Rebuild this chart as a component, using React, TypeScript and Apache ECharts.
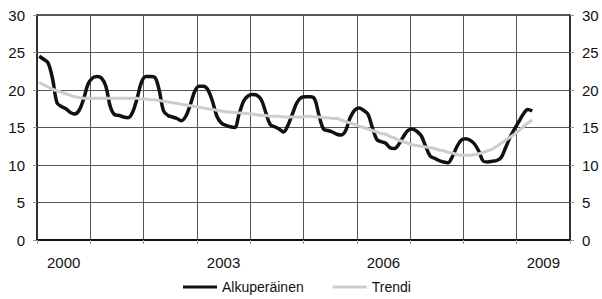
import React, { useEffect, useRef } from "react";
import * as echarts from "echarts";

const years = ["2000", "2001", "2002", "2003", "2004", "2005", "2006", "2007", "2008", "2009"];
const yTicks = [0, 5, 10, 15, 20, 25, 30];

// Monthly values, Jan 2000 .. Apr 2009
const original = [
  24.5, 24.1, 23.6, 21.5, 18.3, 17.8, 17.5, 17.0, 16.8, 17.3, 18.8, 20.8,
  21.6, 21.8, 21.6, 20.5, 17.8, 16.7, 16.6, 16.4, 16.3, 17.0, 18.8, 21.0,
  21.8, 21.8, 21.7, 20.0, 17.2, 16.6, 16.4, 16.2, 15.9, 16.5, 18.0, 19.8,
  20.5, 20.5, 20.0, 18.5, 16.5, 15.6, 15.3, 15.1, 15.0, 16.8, 18.5, 19.2,
  19.4, 19.3, 18.7, 17.0, 15.4, 15.1, 14.8, 14.4, 15.3, 16.8, 18.3, 19.0,
  19.1, 19.1, 18.8, 16.6, 14.8, 14.6, 14.4, 14.1, 14.0, 14.6, 16.3, 17.3,
  17.6, 17.3, 16.8, 15.0, 13.4, 13.1, 12.9, 12.3, 12.2, 12.8, 13.8, 14.6,
  14.8, 14.5, 13.9, 12.5, 11.2, 10.9, 10.6, 10.4, 10.3, 11.1, 12.4, 13.3,
  13.5, 13.3, 12.8, 11.8, 10.5, 10.4, 10.5, 10.6, 11.0, 12.3, 13.7, 14.8,
  15.8, 16.8, 17.4, 17.2,
];

const trend = [
  21.0, 20.7, 20.4, 20.1, 19.9, 19.7, 19.5, 19.3, 19.1, 19.0, 18.9, 18.9,
  18.9, 18.9, 18.9, 18.9, 18.9, 18.9, 18.9, 18.9, 18.9, 18.9, 18.9, 18.8,
  18.8, 18.7, 18.7, 18.6, 18.5, 18.4, 18.3, 18.2, 18.1, 18.0, 17.9, 17.8,
  17.7, 17.6, 17.5, 17.4, 17.3, 17.2, 17.1, 17.05, 17.0, 16.95, 16.9, 16.85,
  16.8, 16.7, 16.6, 16.6, 16.5, 16.5, 16.5, 16.4, 16.4, 16.4, 16.4, 16.4,
  16.5, 16.5, 16.4, 16.4, 16.3, 16.3, 16.2, 16.2, 16.0, 15.8, 15.6, 15.4,
  15.2, 15.0, 14.8, 14.6, 14.4, 14.2, 14.1, 13.8, 13.6, 13.3, 13.1, 12.9,
  12.7, 12.6, 12.5, 12.4, 12.3, 12.2, 12.0, 11.9, 11.7, 11.6, 11.4, 11.3,
  11.3, 11.3, 11.4, 11.5, 11.7, 11.9, 12.1, 12.5, 12.9, 13.3, 13.7, 14.1,
  14.6, 15.1, 15.6, 16.0,
];

const seriesNames = ["Alkuperäinen", "Trendi"];

const FONT = "'Liberation Sans', Arial, sans-serif";
const BLACK = "#111";
const GREY = "#cdcdcd";

export default function App() {
  const ref = useRef<HTMLDivElement>(null);
  useEffect(() => {
    if (!ref.current) return;
    const chart = echarts.init(ref.current, null, { renderer: "svg" });
    const toPairs = (arr: number[]) => arr.map((v, i) => [i + 0.5, v]);
    const yAxisCommon = {
      type: "value",
      min: yTicks[0],
      max: yTicks[yTicks.length - 1],
      interval: 5,
      axisLine: { show: true, lineStyle: { color: "#222", width: 1.5 } },
      axisTick: { show: true, length: 4, lineStyle: { color: "#999" } },
      axisLabel: { color: "#111", fontSize: 15, fontFamily: FONT, margin: 12 },
    };
    chart.setOption({
      animation: false,
      backgroundColor: "#fff",
      grid: {
        left: 37,
        right: 32,
        top: 15,
        bottom: 59,
        show: true,
        borderColor: "#222",
        borderWidth: 1.5,
        backgroundColor: "transparent",
      },
      legend: {
        data: [
          { name: seriesNames[0], icon: "rect", itemStyle: { color: BLACK } },
          { name: seriesNames[1], icon: "rect", itemStyle: { color: GREY } },
        ],
        left: 183,
        top: 280,
        padding: 0,
        itemWidth: 34,
        itemHeight: 3,
        itemGap: 29,
        textStyle: { color: "#111", fontSize: 14, fontFamily: FONT },
      },
      xAxis: [
        {
          type: "category",
          data: years,
          boundaryGap: true,
          axisLine: { show: true, lineStyle: { color: "#111", width: 2 } },
          axisTick: { show: true, interval: 0, length: 4, lineStyle: { color: "#999" } },
          axisLabel: { interval: 2, color: "#111", fontSize: 15, fontFamily: FONT, margin: 15 },
          splitLine: { show: true, interval: 0, lineStyle: { color: "#555", width: 1 } },
        },
        {
          type: "value",
          min: 0,
          max: years.length * 12,
          show: false,
        },
      ],
      yAxis: [
        {
          ...yAxisCommon,
          position: "left",
          splitLine: { show: true, lineStyle: { color: "#555", width: 1 } },
        },
        {
          ...yAxisCommon,
          position: "right",
          splitLine: { show: false },
        },
      ],
      series: [
        {
          name: seriesNames[0],
          type: "line",
          xAxisIndex: 1,
          yAxisIndex: 0,
          data: toPairs(original),
          symbol: "none",
          smooth: 0.35,
          lineStyle: { color: BLACK, width: 3.5 },
          itemStyle: { color: BLACK },
          z: 3,
        },
        {
          name: seriesNames[1],
          type: "line",
          xAxisIndex: 1,
          yAxisIndex: 0,
          data: toPairs(trend),
          symbol: "none",
          smooth: 0.35,
          lineStyle: { color: GREY, width: 3 },
          itemStyle: { color: GREY },
          z: 4,
        },
      ],
    });
    return () => chart.dispose();
  }, []);
  return <div ref={ref} style={{ width: 602, height: 299, position: "fixed", left: 0, top: 0 }} />;
}
